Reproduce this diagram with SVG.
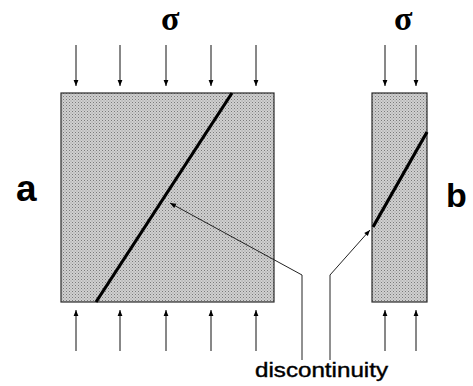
<svg xmlns="http://www.w3.org/2000/svg" width="473" height="386" viewBox="0 0 473 386">
<style>
.blk{fill:url(#stip);stroke:#2a2a2a;stroke-width:1.2}
.load{stroke:#111;stroke-width:1;fill:none;marker-end:url(#ah)}
.lead{stroke:#222;stroke-width:1;fill:none}
.disc{stroke:#000;stroke-width:3.2;stroke-linecap:butt}
.sig{font-family:"Liberation Serif","DejaVu Serif",serif;font-size:34px;font-weight:bold;fill:#000}
.lab{font-family:"Liberation Sans",Arial,sans-serif;font-weight:bold;fill:#000}
.txt{font-family:"Liberation Sans",Arial,sans-serif;font-size:20px;fill:#000;stroke:#000;stroke-width:0.4}
</style>
<defs>
<pattern id="stip" width="3" height="3" patternUnits="userSpaceOnUse">
<rect width="3" height="3" fill="#d0d0d0"/>
<rect width="1" height="1" fill="#7a7a7a"/>
<rect x="1.5" y="1.5" width="1" height="1" fill="#959595"/>
</pattern>
<marker id="ah" viewBox="0 0 10 10" refX="10" refY="5" markerWidth="6" markerHeight="8" markerUnits="userSpaceOnUse" orient="auto">
<path d="M0,1 L10,5 L0,9 Z" fill="#000"/>
</marker>
<marker id="ahs" viewBox="0 0 10 10" refX="10" refY="5" markerWidth="8" markerHeight="6" markerUnits="userSpaceOnUse" orient="auto">
<path d="M0,1 L10,5 L0,9 Z" fill="#000"/>
</marker>
</defs>
<g id="block-a">
<rect class="blk" x="61" y="93" width="213" height="209"/>
<line class="disc" x1="232" y1="93" x2="96" y2="302"/>
<text class="lab" x="16" y="201" font-size="37">a</text>
<text class="sig" x="161" y="30">σ</text>
</g>
<g id="block-b">
<rect class="blk" x="372" y="93" width="55" height="209"/>
<line class="disc" x1="427" y1="132" x2="373" y2="227"/>
<text class="lab" x="446" y="207" font-size="34">b</text>
<text class="sig" x="394" y="30">σ</text>
</g>
<g id="label-discontinuity">
<text class="txt" x="255" y="377" textLength="133" lengthAdjust="spacingAndGlyphs">discontinuity</text>
</g>
<g id="connectors">
<line class="load" x1="76" y1="45" x2="76" y2="86"/>
<line class="load" x1="120" y1="45" x2="120" y2="86"/>
<line class="load" x1="166" y1="45" x2="166" y2="86"/>
<line class="load" x1="211" y1="45" x2="211" y2="86"/>
<line class="load" x1="256" y1="45" x2="256" y2="86"/>
<line class="load" x1="385" y1="45" x2="385" y2="86"/>
<line class="load" x1="416" y1="45" x2="416" y2="86"/>
<line class="load" x1="76" y1="351" x2="76" y2="310"/>
<line class="load" x1="120" y1="351" x2="120" y2="310"/>
<line class="load" x1="166" y1="351" x2="166" y2="310"/>
<line class="load" x1="211" y1="351" x2="211" y2="310"/>
<line class="load" x1="256" y1="351" x2="256" y2="310"/>
<line class="load" x1="385" y1="351" x2="385" y2="310"/>
<line class="load" x1="416" y1="351" x2="416" y2="310"/>
<path class="lead" d="M302,360 L302,275 L170,203" marker-end="url(#ahs)"/>
<path class="lead" d="M330,360 L330,275 L370,230" marker-end="url(#ahs)"/>
</g>
</svg>
